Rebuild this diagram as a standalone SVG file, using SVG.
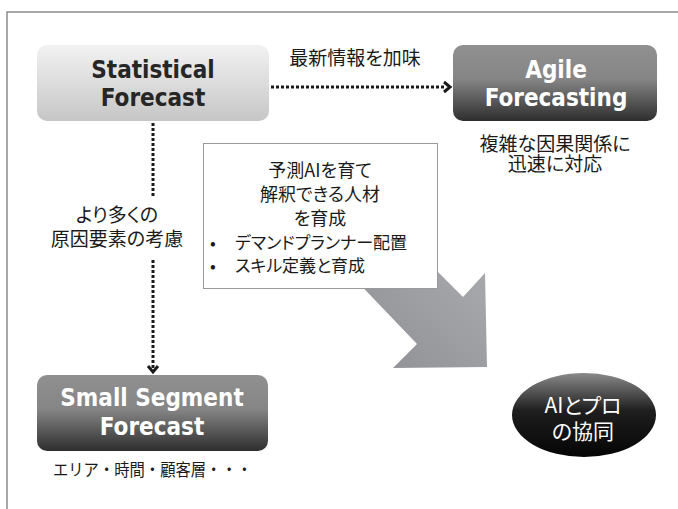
<svg xmlns="http://www.w3.org/2000/svg" width="678" height="509" viewBox="0 0 678 509">
<defs>
<linearGradient id="gLight" x1="0" y1="0" x2="0" y2="1">
<stop offset="0" stop-color="#f2f2f2"/>
<stop offset="1" stop-color="#c6c6c6"/>
</linearGradient>
<linearGradient id="gDark" x1="0" y1="0" x2="0" y2="1">
<stop offset="0" stop-color="#909090"/>
<stop offset="0.45" stop-color="#858585"/>
<stop offset="1" stop-color="#2e2e2e"/>
</linearGradient>
<linearGradient id="gEll" x1="0" y1="0" x2="0" y2="1">
<stop offset="0" stop-color="#8a8a8a"/>
<stop offset="0.45" stop-color="#1e1e1e"/>
<stop offset="1" stop-color="#050505"/>
</linearGradient>
<linearGradient id="gArrow" x1="0" y1="1" x2="1" y2="0">
<stop offset="0" stop-color="#8e8f92"/>
<stop offset="1" stop-color="#acadb1"/>
</linearGradient>
</defs>
<style>
.en{font-family:"DejaVu Sans Condensed","DejaVu Sans",Verdana,sans-serif;font-stretch:condensed;font-weight:bold;font-size:24px;text-anchor:middle}
.jp{font-family:"Noto Sans CJK JP",sans-serif;fill:#1a1a1a}
.p{font-feature-settings:"palt" 1}
.mid{text-anchor:middle}
.dot{fill:none;stroke:#1a1a1a;stroke-width:3;stroke-dasharray:3 2}
.head{fill:none;stroke:#1a1a1a;stroke-width:3}
</style>
<path d="M7,509 V12 H678" fill="none" stroke="#8c8c8c" stroke-width="1.5"/>

<g id="big-arrow">
<polygon points="400,234 463,297 485,273 487,367 393,368 417,344 350,274" fill="url(#gArrow)"/>
</g>

<g id="connectors">
<line class="dot" x1="271" y1="87" x2="446" y2="87"/>
<path class="head" d="M444,82 L450,87 L444,92"/>
<line class="dot" x1="153" y1="123" x2="153" y2="198"/>
<line class="dot" x1="153" y1="260" x2="153" y2="368"/>
<path class="head" d="M148,366 L153,372 L158,366"/>
<text class="jp p mid" x="355" y="65" font-size="19">最新情報を加味</text>
<text class="jp p mid" x="117" y="222" font-size="19">より多くの</text>
<text class="jp p mid" x="117" y="246" font-size="19">原因要素の考慮</text>
</g>

<g id="statistical">
<rect x="37" y="45" width="232" height="76" rx="10" fill="url(#gLight)"/>
<text class="en" x="153" y="78" fill="#262626">Statistical</text>
<text class="en" x="153" y="106" fill="#262626">Forecast</text>
</g>

<g id="agile">
<rect x="453" y="45" width="204" height="76" rx="10" fill="url(#gDark)"/>
<text class="en" x="556" y="78" fill="#ffffff">Agile</text>
<text class="en" x="556" y="106" fill="#ffffff">Forecasting</text>
<text class="jp p mid" x="555" y="151" font-size="19">複雑な因果関係に</text>
<text class="jp p mid" x="555" y="171" font-size="19">迅速に対応</text>
</g>

<g id="textbox">
<rect x="203.5" y="143.5" width="234" height="145" fill="#ffffff" stroke="#9a9a9a" stroke-width="1"/>
<text class="jp p mid" x="320" y="177" font-size="18">予測AIを育て</text>
<text class="jp p mid" x="320" y="201" font-size="18">解釈できる人材</text>
<text class="jp p mid" x="320" y="225" font-size="18">を育成</text>
<text class="jp" x="210" y="249" font-size="17">•</text>
<text class="jp p" x="235" y="249" font-size="17">デマンドプランナー配置</text>
<text class="jp" x="210" y="272" font-size="17">•</text>
<text class="jp p" x="235" y="272" font-size="17">スキル定義と育成</text>
</g>

<g id="small-segment">
<rect x="37" y="375" width="231" height="76" rx="10" fill="url(#gDark)"/>
<text class="en" x="152" y="406" fill="#ffffff">Small Segment</text>
<text class="en" x="152" y="435" fill="#ffffff">Forecast</text>
<text class="jp" x="53" y="476" font-size="16.5" textLength="199" lengthAdjust="spacingAndGlyphs">エリア・時間・顧客層・・・</text>
</g>

<g id="ai-pro">
<ellipse cx="584" cy="415" rx="72" ry="42" fill="url(#gEll)"/>
<text class="jp p mid" x="583" y="413" font-size="21" style="fill:#ffffff">AIとプロ</text>
<text class="jp p mid" x="583" y="439" font-size="21" style="fill:#ffffff">の協同</text>
</g>
</svg>
